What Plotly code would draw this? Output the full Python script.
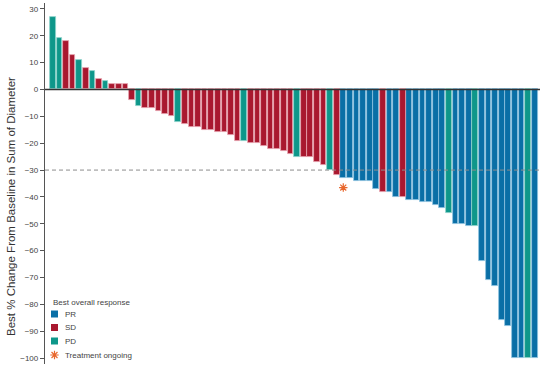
import plotly.graph_objects as go

# Best % change from baseline in sum of diameters, one value per patient (waterfall order)
change = [27, 19, 18, 13, 11, 8, 7, 4, 3, 2,
          2, 2, -4, -6, -7, -7, -8, -9, -10, -12,
          -13, -14, -14, -15, -15, -16, -16, -17, -19, -19,
          -20, -20, -21, -22, -22, -23, -24, -25, -25, -25,
          -27, -28, -30, -32, -33, -33, -34, -34, -34, -37,
          -38, -38, -40, -40, -41, -41, -42, -42, -43, -44,
          -46, -50, -50, -51, -51, -64, -71, -73, -86, -88,
          -100, -100, -100, -100]
response = ["PD", "PD", "SD", "SD", "PD", "SD", "PD", "SD", "PD", "SD",
            "SD", "SD", "SD", "PD", "SD", "SD", "SD", "SD", "SD", "PD",
            "SD", "SD", "SD", "SD", "SD", "SD", "SD", "SD", "SD", "PD",
            "SD", "SD", "SD", "SD", "SD", "SD", "SD", "PD", "SD", "SD",
            "SD", "SD", "PD", "SD", "PR", "PR", "PR", "PR", "PR", "PR",
            "SD", "PR", "PR", "SD", "PR", "PR", "PR", "PR", "PR", "PR",
            "PD", "PR", "PR", "PR", "PD", "PR", "PR", "PR", "PR", "PR",
            "PR", "PR", "PD", "PR"]
ongoing_patients = [45]  # 1-based patient rank with treatment ongoing
categories = ["PR", "SD", "PD"]
legend_title = "Best overall response"
ongoing_label = "Treatment ongoing"
y_ticks = list(range(-100, 31, 10))
y_title = "Best % Change From Baseline in Sum of Diameter"
threshold = -30

colors = {"PR": "#0a6fa6", "SD": "#a9182f", "PD": "#0e978a"}
edge = {"PR": "#8ec3df", "SD": "#e7a3b0", "PD": "#8fd3cc"}
star_color = "#e8672c"
font_family = "Liberation Sans, Arial, Helvetica, sans-serif"

W, H = 550, 370
ml, mr, mt, mb = 45, 10, 3, 6
pw, ph = W - ml - mr, H - mt - mb

def px_x(x):
    return (x - ml) / pw

def px_y(y):
    return (H - mb - y) / ph

n = len(change)
rank = list(range(1, n + 1))

fig = go.Figure()
for cat in categories:
    xs = [r for r, c in zip(rank, response) if c == cat]
    ys = [v for v, c in zip(change, response) if c == cat]
    fig.add_trace(go.Bar(x=xs, y=ys, name=cat, width=0.86,
                         marker=dict(color=colors[cat],
                                     line=dict(color=edge[cat], width=0.8)),
                         showlegend=False))

fig.add_trace(go.Scatter(
    x=[rank[p - 1] for p in ongoing_patients],
    y=[change[p - 1] - 3.5 for p in ongoing_patients],
    mode="markers",
    marker=dict(symbol="asterisk-open", size=7, color=star_color,
                line=dict(color=star_color, width=1.2)),
    showlegend=False))

# legend asterisk on an overlay axis in [0,1] paper-like space
fig.add_trace(go.Scatter(
    x=[px_x(54.5)], y=[px_y(355)], xaxis="x2", yaxis="y2",
    mode="markers",
    marker=dict(symbol="asterisk-open", size=7, color=star_color,
                line=dict(color=star_color, width=1.2)),
    showlegend=False, hoverinfo="skip"))

shapes = [
    dict(type="line", xref="paper", yref="y", x0=0, x1=1, y0=threshold, y1=threshold,
         line=dict(color="#8c8c8c", width=1, dash="4px,3px"), layer="above"),
    dict(type="line", xref="paper", yref="y", x0=0, x1=1, y0=0, y1=0,
         line=dict(color="#333333", width=1.3), layer="above"),
]
annotations = [
    dict(text=legend_title, xref="paper", yref="paper", x=px_x(51), y=px_y(302.5),
         xanchor="left", yanchor="middle", showarrow=False,
         font=dict(size=8, color="#444444", family=font_family)),
    dict(text=y_title, xref="paper", yref="paper", x=px_x(11), y=px_y(207),
         xanchor="center", yanchor="middle", textangle=-90, showarrow=False,
         font=dict(size=11.5, color="#333333", family=font_family)),
]
legend_rows = {"PR": 314, "SD": 327.5, "PD": 341}
for cat in categories:
    cy = legend_rows[cat]
    shapes.append(dict(type="rect", xref="paper", yref="paper",
                       x0=px_x(51), x1=px_x(58), y0=px_y(cy + 3.5), y1=px_y(cy - 3.5),
                       fillcolor=colors[cat], line=dict(width=0)))
    annotations.append(dict(text=cat, xref="paper", yref="paper", x=px_x(63), y=px_y(cy),
                            xanchor="left", yanchor="middle", showarrow=False,
                            font=dict(size=8, color="#444444", family=font_family)))
annotations.append(dict(text=ongoing_label, xref="paper", yref="paper", x=px_x(63), y=px_y(355),
                        xanchor="left", yanchor="middle", showarrow=False,
                        font=dict(size=8, color="#444444", family=font_family)))

fig.update_layout(
    width=W, height=H,
    margin=dict(l=ml, r=mr, t=mt, b=mb, autoexpand=False),
    paper_bgcolor="white", plot_bgcolor="white",
    barmode="overlay", bargap=0,
    font=dict(family=font_family, color="#444444"),
    shapes=shapes, annotations=annotations,
    xaxis=dict(range=[-0.18, n + 0.8], visible=False, fixedrange=True, automargin=False),
    yaxis=dict(range=[-102.2, 32.2], tickvals=y_ticks, ticks="outside", ticklen=4,
               tickcolor="#555555", tickwidth=1, showline=True, linecolor="#555555",
               linewidth=1.3, showgrid=False, zeroline=False, automargin=False,
               tickfont=dict(size=8, color="#444444")),
    xaxis2=dict(range=[0, 1], overlaying="x", visible=False, fixedrange=True, automargin=False),
    yaxis2=dict(range=[0, 1], overlaying="y", visible=False, fixedrange=True, automargin=False),
    showlegend=False,
)

fig.write_html("out.html", config={"displayModeBar": False},
               post_script="document.body.style.margin='0px';")
